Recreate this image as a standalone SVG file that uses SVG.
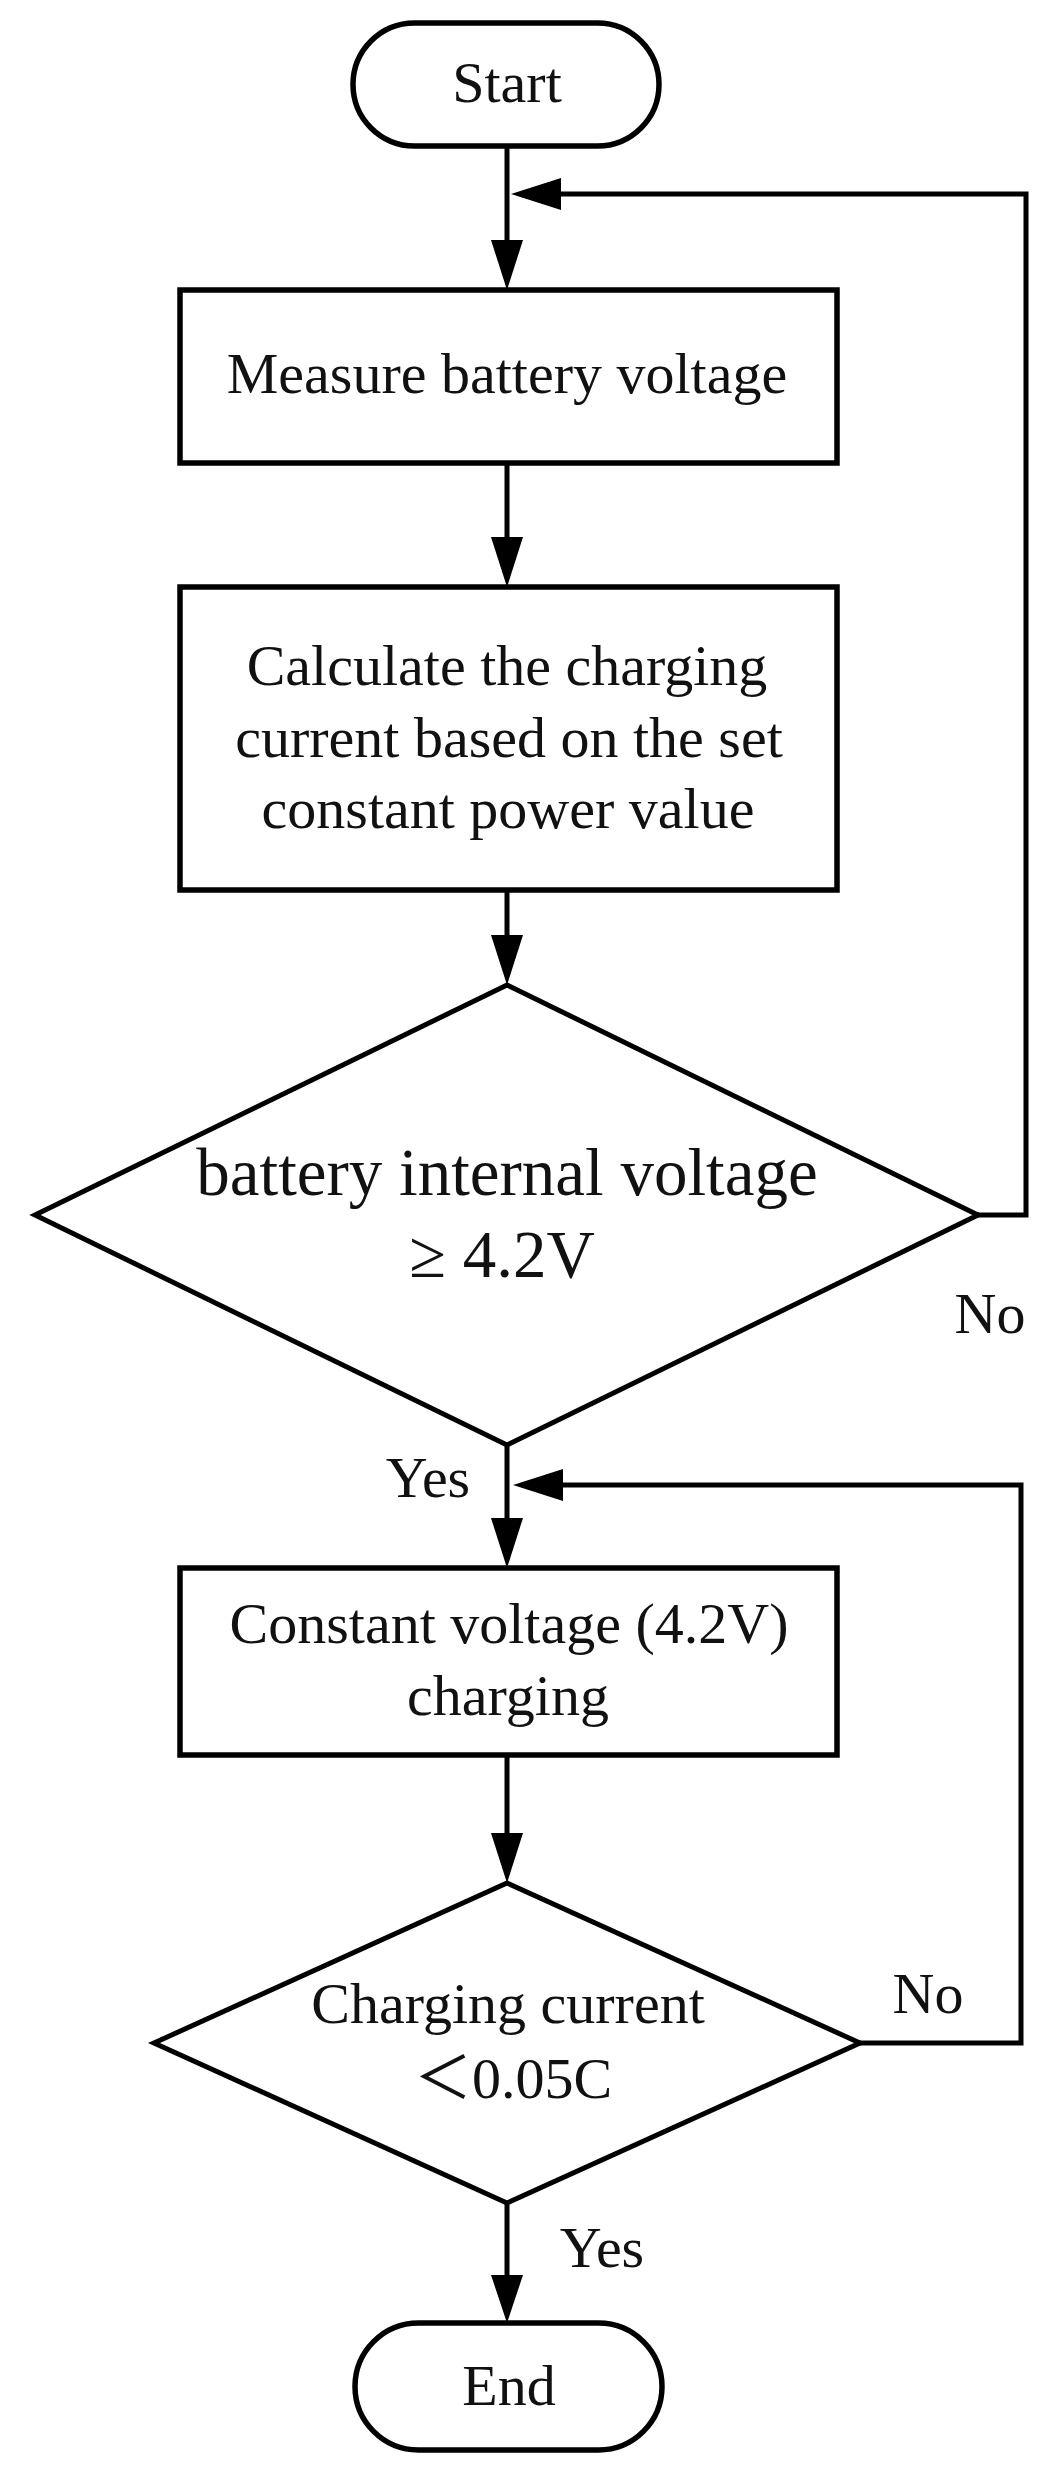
<svg xmlns="http://www.w3.org/2000/svg" width="1047" height="2465" viewBox="0 0 1047 2465">
<style>
.shape{fill:#fff;stroke:#000;stroke-width:5.5}
.dia{fill:#fff;stroke:#000;stroke-width:5;stroke-linejoin:miter}
.ln{fill:none;stroke:#000;stroke-width:5}
.ah{fill:#000}
text{font-family:"Liberation Serif","Noto Sans CJK SC",serif;fill:#111;text-anchor:middle}
.t{font-size:58px}
.big{font-size:67px}
</style>
<rect width="1047" height="2465" fill="#fff"/>
<g id="connectors">
<line class="ln" x1="507" y1="146" x2="507" y2="240"/>
<path class="ah" d="M491,240 L523,240 L507,290 Z"/>
<line class="ln" x1="507" y1="463" x2="507" y2="537"/>
<path class="ah" d="M491,537 L523,537 L507,587 Z"/>
<line class="ln" x1="507" y1="890" x2="507" y2="935"/>
<path class="ah" d="M491,935 L523,935 L507,985 Z"/>
<polyline class="ln" points="978,1215 1026,1215 1026,194 560,194"/>
<path class="ah" d="M561,178 L561,210 L511,194 Z"/>
<line class="ln" x1="507" y1="1445" x2="507" y2="1518"/>
<path class="ah" d="M491,1518 L523,1518 L507,1568 Z"/>
<polyline class="ln" points="860,2043 1021,2043 1021,1485 562,1485"/>
<path class="ah" d="M563,1469 L563,1501 L513,1485 Z"/>
<line class="ln" x1="507" y1="1755" x2="507" y2="1833"/>
<path class="ah" d="M491,1833 L523,1833 L507,1883 Z"/>
<line class="ln" x1="507" y1="2203" x2="507" y2="2275"/>
<path class="ah" d="M491,2275 L523,2275 L507,2323 Z"/>
</g>
<g id="start">
<rect class="shape" x="353" y="23" width="306" height="123" rx="61.5" ry="61.5"/>
<text class="t" x="507" y="102">Start</text>
</g>
<g id="measure">
<rect class="shape" x="180" y="290" width="657" height="173"/>
<text class="t" x="507" y="393">Measure battery voltage</text>
</g>
<g id="calculate">
<rect class="shape" x="180" y="587" width="657" height="303"/>
<text class="t" x="507" y="685">Calculate the charging</text>
<text class="t" x="509" y="757">current based on the set</text>
<text class="t" x="508" y="828">constant power value</text>
</g>
<g id="decision1">
<polygon class="dia" points="507,985 978,1215 507,1445 35,1215"/>
<text class="big" x="507" y="1195">battery internal voltage</text>
<text class="big" x="502" y="1277">≥ 4.2V</text>
</g>
<g id="label-no1"><text class="t" x="990" y="1333">No</text></g>
<g id="label-yes1"><text class="t" x="428" y="1497">Yes</text></g>
<g id="cv">
<rect class="shape" x="180" y="1568" width="657" height="187"/>
<text class="t" x="509" y="1643">Constant voltage (4.2V)</text>
<text class="t" x="508" y="1715">charging</text>
</g>
<g id="decision2">
<polygon class="dia" points="507,1883 860,2043 507,2203 154,2043"/>
<text class="t" x="508" y="2023">Charging current</text>
<text class="t" x="513" y="2098">＜0.05C</text>
</g>
<g id="label-no2"><text class="t" x="928" y="2013">No</text></g>
<g id="label-yes2"><text class="t" x="602" y="2267">Yes</text></g>
<g id="end">
<rect class="shape" x="355" y="2323" width="307" height="127" rx="63.5" ry="63.5"/>
<text class="t" x="509" y="2405">End</text>
</g>
</svg>
